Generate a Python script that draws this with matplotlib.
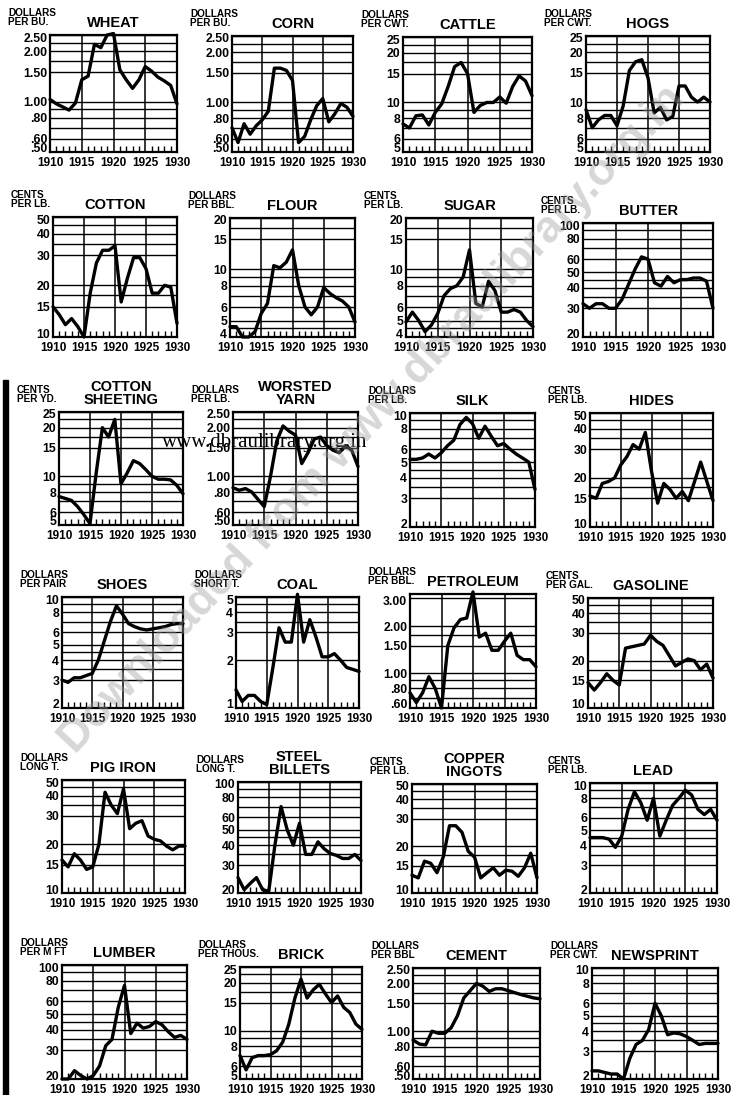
import matplotlib
matplotlib.use("Agg")
import matplotlib.pyplot as plt
from matplotlib.patches import Rectangle
from matplotlib.ticker import FixedLocator, FixedFormatter, NullLocator
from matplotlib.transforms import ScaledTranslation

plt.rcParams['font.family'] = ['Liberation Sans', 'DejaVu Sans']
plt.rcParams['font.weight'] = 'bold'

W, H = 733, 1095
fig = plt.figure(figsize=(W / 100, H / 100), dpi=100)

# ---------------- data ----------------
years = list(range(1910, 1931))
x_tick_years = [1910, 1915, 1920, 1925, 1930]
x_tick_labels = ['1910', '1915', '1920', '1925', '1930']

wheat = [1.03, 0.97, 0.93, 0.89, 0.98, 1.35, 1.42, 2.20, 2.10, 2.50, 2.55, 1.55, 1.35, 1.20, 1.35, 1.62, 1.52, 1.40, 1.33, 1.25, 0.97]
corn = [0.70, 0.57, 0.74, 0.64, 0.72, 0.78, 0.88, 1.60, 1.60, 1.55, 1.35, 0.57, 0.62, 0.78, 0.95, 1.05, 0.76, 0.85, 0.98, 0.93, 0.82]
cattle = [7.4, 7.0, 8.3, 8.4, 7.3, 8.7, 9.8, 12.5, 16.5, 17.5, 15.0, 8.7, 9.6, 10.0, 10.0, 10.8, 9.9, 12.5, 14.5, 13.5, 11.0]
hogs = [9.0, 7.0, 7.8, 8.3, 8.3, 7.2, 9.5, 15.5, 17.5, 18.0, 14.0, 8.6, 9.3, 7.8, 8.2, 12.5, 12.5, 10.7, 10.0, 10.7, 10.0]
cotton = [15.0, 13.5, 11.8, 12.8, 11.5, 10.0, 18.0, 27.0, 32.0, 32.0, 34.0, 16.0, 22.0, 29.0, 29.0, 25.0, 18.0, 18.0, 20.0, 19.5, 12.0]
flour = [4.6, 4.6, 4.0, 4.0, 4.3, 5.5, 6.3, 10.5, 10.2, 11.0, 13.0, 8.0, 6.0, 5.4, 6.0, 7.8, 7.2, 6.8, 6.5, 6.0, 4.9]
sugar = [4.9, 5.6, 5.0, 4.3, 4.7, 5.5, 7.0, 7.7, 8.0, 9.0, 13.0, 6.3, 6.0, 8.5, 7.5, 5.6, 5.6, 5.8, 5.6, 5.0, 4.6]
butter = [32, 30, 32, 32, 30, 30, 34, 42, 52, 62, 60, 43, 41, 47, 43, 45, 45, 46, 46, 44, 30]
sheeting = [7.5, 7.3, 7.1, 6.5, 5.8, 5.1, 10.5, 20.0, 17.5, 22.5, 9.0, 10.5, 12.5, 12.0, 11.0, 10.0, 9.6, 9.6, 9.5, 8.8, 7.8]
worsted = [0.85, 0.82, 0.84, 0.80, 0.72, 0.65, 1.00, 1.65, 2.05, 1.90, 1.80, 1.20, 1.40, 1.70, 1.75, 1.55, 1.45, 1.40, 1.55, 1.45, 1.15]
silk = [5.2, 5.2, 5.3, 5.6, 5.3, 5.7, 6.3, 6.8, 8.5, 9.4, 8.6, 7.0, 8.3, 7.2, 6.3, 6.5, 6.0, 5.6, 5.3, 5.0, 3.4]
hides = [15.5, 15.0, 18.5, 19.0, 20.0, 24.0, 27.0, 32.0, 30.0, 38.0, 22.0, 14.0, 18.5, 17.0, 15.0, 16.5, 14.5, 19.0, 25.0, 19.0, 14.5]
shoes = [3.0, 2.9, 3.1, 3.1, 3.2, 3.3, 4.0, 5.3, 7.0, 8.8, 7.8, 6.8, 6.5, 6.3, 6.2, 6.3, 6.4, 6.5, 6.7, 6.8, 6.8]
coal = [1.3, 1.1, 1.2, 1.2, 1.1, 1.05, 1.8, 3.2, 2.6, 2.6, 5.2, 2.6, 3.6, 2.8, 2.1, 2.1, 2.2, 2.0, 1.8, 1.75, 1.7]
petroleum = [0.75, 0.65, 0.75, 0.95, 0.80, 0.60, 1.50, 1.95, 2.20, 2.25, 3.30, 1.70, 1.80, 1.40, 1.40, 1.60, 1.80, 1.30, 1.22, 1.22, 1.10]
gasoline = [14.5, 13.0, 14.5, 16.5, 15.0, 14.0, 24.0, 24.5, 25.0, 25.5, 29.0, 26.5, 25.0, 21.5, 18.5, 19.5, 20.5, 20.0, 17.5, 19.0, 15.5]
pig_iron = [16.0, 14.5, 17.5, 16.0, 14.0, 14.5, 20.0, 42.0, 35.0, 31.0, 44.0, 25.0, 27.0, 28.0, 22.5, 21.5, 21.0, 19.5, 18.5, 19.5, 19.5]
steel = [25, 21, 23, 25, 21, 20.5, 40, 70, 50, 40, 55, 35, 35, 42, 38, 35.5, 34.5, 33, 33, 35, 32]
copper = [13.0, 12.5, 16.0, 15.5, 13.5, 17.0, 27.0, 27.0, 24.5, 18.5, 17.0, 12.5, 13.5, 14.5, 13.0, 14.0, 13.8, 12.8, 14.5, 18.0, 12.5]
lead = [4.5, 4.5, 4.5, 4.4, 3.9, 4.6, 6.8, 8.8, 7.5, 5.8, 8.0, 4.6, 5.8, 7.2, 8.0, 9.0, 8.4, 6.8, 6.3, 6.8, 5.8]
lumber = [20, 20, 22.5, 21, 20, 21, 24, 32, 35, 55, 75, 38, 44, 41, 42, 45, 43, 39, 36, 37, 35]
brick = [7.0, 5.7, 6.8, 7.0, 7.0, 7.1, 7.5, 8.5, 11.0, 16.0, 21.0, 16.0, 18.0, 19.5, 17.0, 15.0, 16.5, 14.0, 13.0, 11.0, 10.2]
cement = [0.88, 0.83, 0.82, 1.00, 0.97, 0.97, 1.05, 1.25, 1.62, 1.80, 2.00, 1.92, 1.78, 1.85, 1.85, 1.80, 1.75, 1.70, 1.66, 1.62, 1.60]
newsprint = [2.25, 2.25, 2.20, 2.15, 2.15, 2.00, 2.70, 3.30, 3.50, 4.10, 6.00, 5.00, 3.80, 3.90, 3.85, 3.70, 3.50, 3.30, 3.35, 3.35, 3.35]

titles = ["WHEAT", "CORN", "CATTLE", "HOGS",
          "COTTON", "FLOUR", "SUGAR", "BUTTER",
          "COTTON\nSHEETING", "WORSTED\nYARN", "SILK", "HIDES",
          "SHOES", "COAL", "PETROLEUM", "GASOLINE",
          "PIG IRON", "STEEL\nBILLETS", "COPPER\nINGOTS", "LEAD",
          "LUMBER", "BRICK", "CEMENT", "NEWSPRINT"]
units = ["DOLLARS\nPER BU.", "DOLLARS\nPER BU.", "DOLLARS\nPER CWT.", "DOLLARS\nPER CWT.",
         "CENTS\nPER LB.", "DOLLARS\nPER BBL.", "CENTS\nPER LB.", "CENTS\nPER LB.",
         "CENTS\nPER YD.", "DOLLARS\nPER LB.", "DOLLARS\nPER LB.", "CENTS\nPER LB.",
         "DOLLARS\nPER PAIR", "DOLLARS\nSHORT T.", "DOLLARS\nPER BBL.", "CENTS\nPER GAL.",
         "DOLLARS\nLONG T.", "DOLLARS\nLONG T.", "CENTS\nPER LB.", "CENTS\nPER LB.",
         "DOLLARS\nPER M FT", "DOLLARS\nPER THOUS.", "DOLLARS\nPER BBL", "DOLLARS\nPER CWT."]
series = [wheat, corn, cattle, hogs, cotton, flour, sugar, butter,
          sheeting, worsted, silk, hides, shoes, coal, petroleum, gasoline,
          pig_iron, steel, copper, lead, lumber, brick, cement, newsprint]

# tick scales
dol_ticks = [0.5, 0.6, 0.8, 1.0, 1.5, 2.0, 2.5]
dol_labels = ['.50', '.60', '.80', '1.00', '1.50', '2.00', '2.50']
pet_ticks = [0.6, 0.8, 1.0, 1.5, 2.0, 3.0]
pet_labels = ['.60', '.80', '1.00', '1.50', '2.00', '3.00']
t5_25 = [5, 6, 8, 10, 15, 20, 25]
t4_20 = [4, 5, 6, 8, 10, 15, 20]
t10_50 = [10, 15, 20, 30, 40, 50]
t20_100 = [20, 30, 40, 50, 60, 80, 100]
t2_10 = [2, 3, 4, 5, 6, 8, 10]
t1_5 = [1, 2, 3, 4, 5]

def lab(t):
    return [str(v) for v in t]

ticks = [dol_ticks, dol_ticks, t5_25, t5_25,
         t10_50, t4_20, t4_20, t20_100,
         t5_25, dol_ticks, t2_10, t10_50,
         t2_10, t1_5, pet_ticks, t10_50,
         t10_50, t20_100, t10_50, t2_10,
         t20_100, t5_25, dol_ticks, t2_10]
labels = [dol_labels if t is dol_ticks else pet_labels if t is pet_ticks else lab(t) for t in ticks]
ylims = [(0.5, 2.5), (0.5, 2.5), (5, 25), (5, 25),
         (10, 50), (4, 20), (4, 20), (20, 100),
         (5, 25), (0.5, 2.5), (2, 10), (10, 50),
         (2, 10), (1, 5), (0.6, 3.2), (10, 50),
         (10, 50), (20, 100), (10, 50), (2, 10),
         (20, 100), (5, 25), (0.5, 2.5), (2, 10)]

# ---------------- layout (pixels: left, right, top, bottom) ----------------
layout = [(50, 177, 35, 152), (232, 353, 36, 152), (403, 532, 37, 152), (586, 710, 36, 152),
          (53, 177, 217, 337), (230, 355, 218, 337), (406, 533, 218, 337), (583, 713, 223, 337),
          (59, 183, 412, 525), (233, 358, 412, 525), (410, 535, 413, 527), (590, 713, 413, 527),
          (62, 183, 597, 708), (236, 359, 597, 708), (410, 536, 594, 708), (588, 713, 598, 708),
          (62, 185, 780, 893), (238, 361, 782, 893), (412, 537, 784, 893), (590, 717, 783, 893),
          (62, 187, 965, 1079), (240, 362, 967, 1079), (413, 540, 968, 1079), (592, 718, 968, 1079)]

def extra_lines(t):
    out = []
    for a, b in zip(t[:-1], t[1:]):
        r = b / a
        if abs(r - 1.25) < 0.01 or abs(r - 8 / 6) < 0.01:
            out.append((a + b) / 2)
    return out

up = ScaledTranslation(0, 4 / 100, fig.dpi_scale_trans)
down = ScaledTranslation(0, -2 / 100, fig.dpi_scale_trans)

for i in range(24):
    l, r, t, b = layout[i]
    ax = fig.add_axes([l / W, 1 - b / H, (r - l) / W, (b - t) / H])
    ax.set_yscale('log')
    ax.set_xlim(1910, 1930)
    ax.set_ylim(*ylims[i])
    for v in ticks[i] + extra_lines(ticks[i]):
        ax.axhline(v, color='black', lw=1.0, zorder=1)
    for yr in (1915, 1920, 1925):
        ax.axvline(yr, color='black', lw=1.1, zorder=1)
    ax.plot(years, series[i], color='black', lw=2.4, zorder=3, clip_on=False,
            solid_joinstyle='round', solid_capstyle='round')
    ax.yaxis.set_major_locator(FixedLocator(ticks[i]))
    ax.yaxis.set_major_formatter(FixedFormatter(labels[i]))
    ax.yaxis.set_minor_locator(NullLocator())
    ax.set_xticks(x_tick_years)
    ax.set_xticklabels(x_tick_labels)
    ax.set_xticks(years, minor=True)
    ax.tick_params(axis='y', which='major', length=0, pad=2, labelsize=8.8)
    ax.tick_params(axis='x', which='major', length=0, pad=3.5, labelsize=8.5)
    ax.tick_params(axis='x', which='minor', direction='in', length=4, width=1.0)
    ylbls = ax.get_yticklabels()
    for lbl in ax.get_xticklabels() + ylbls:
        lbl.set_fontweight('bold')
    ylbls[0].set_transform(ylbls[0].get_transform() + up)
    ylbls[-1].set_transform(ylbls[-1].get_transform() + down)
    for s in ax.spines.values():
        s.set_linewidth(1.6)
    ax.annotate(titles[i], xy=(0.5, 1), xycoords='axes fraction', xytext=(0, 5),
                textcoords='offset pixels', ha='center', va='bottom', fontsize=10.5,
                fontweight='bold', linespacing=0.95)
    ax.annotate(units[i], xy=(0, 1), xycoords='axes fraction', xytext=(-42, 8),
                textcoords='offset pixels', ha='left', va='bottom', fontsize=7.2,
                fontweight='bold', linespacing=0.9)

# scanned-page details
fig.text(162 / W, 1 - 442 / H, "www.dbraulibrary.org.in", family='Liberation Serif',
         fontweight='normal', fontsize=15, ha='left', va='center')
fig.text(372 / W, 1 - 420 / H, "Downloaded from www.dbraulibrary.org.in", rotation=47,
         fontsize=32, fontweight='bold', color='#9a9a9a', alpha=0.4,
         ha='center', va='center', family='Liberation Sans')
fig.add_artist(Rectangle((3 / W, 0), 5 / W, 1 - 380 / H, transform=fig.transFigure,
                         color='black'))

fig.savefig("out.png", dpi=100)
